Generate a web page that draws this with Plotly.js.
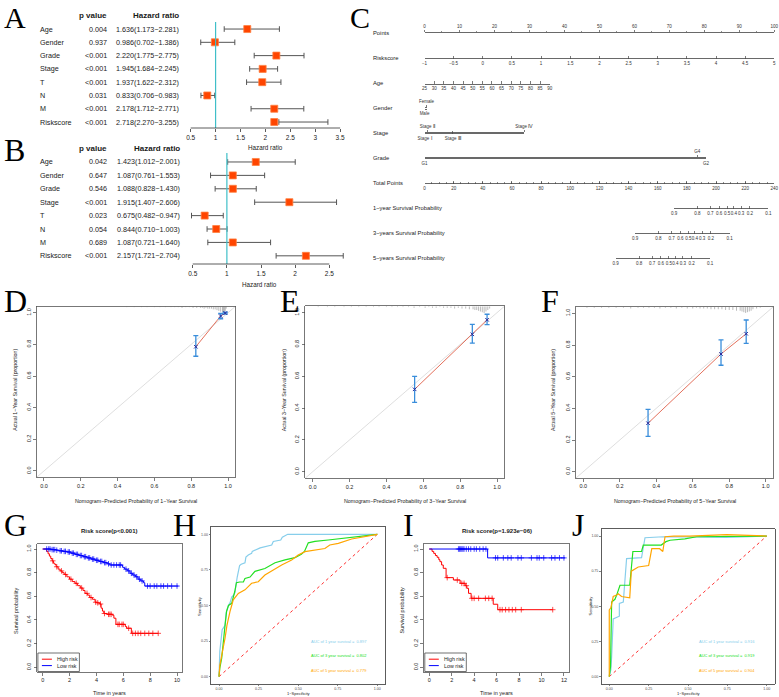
<!DOCTYPE html>
<html><head><meta charset="utf-8">
<script src="https://cdn.plot.ly/plotly-3.0.1.min.js"></script>
<style>html,body{margin:0;padding:0;background:#fff}#chart{width:779px;height:697px}</style>
</head><body><div id="chart"></div>
<script>
// ================= DATA =================
// A: univariate Cox
const uniVars = ['Age','Gender','Grade','Stage','T','N','M','Riskscore'];
const uniP = ['0.004','0.937','<0.001','<0.001','<0.001','0.031','<0.001','<0.001'];
const uniHR = [1.636,0.986,2.220,1.945,1.937,0.833,2.178,2.718];
const uniLo = [1.173,0.702,1.775,1.684,1.622,0.706,1.712,2.270];
const uniHi = [2.281,1.386,2.775,2.245,2.312,0.983,2.771,3.255];
const uniBox = [1.636,0.986,2.220,1.945,1.937,0.833,2.178,2.178]; // square positions as drawn
const uniTicks = [0.5,1,1.5,2,2.5,3,3.5];
// B: multivariate Cox
const mulVars = ['Age','Gender','Grade','Stage','T','N','M','Riskscore'];
const mulP = ['0.042','0.647','0.546','<0.001','0.023','0.054','0.689','<0.001'];
const mulHR = [1.423,1.087,1.088,1.915,0.675,0.844,1.087,2.157];
const mulLo = [1.012,0.761,0.828,1.407,0.482,0.710,0.721,1.721];
const mulHi = [2.001,1.553,1.430,2.606,0.947,1.003,1.640,2.704];
const mulTicks = [0.5,1,1.5,2,2.5];
// C: nomogram
const nomoLabels = ['Points','Riskscore','Age','Gender','Stage','Grade','Total Points',
  '1−year Survival Probability','3−years Survival Probability','5−years Survival Probability'];
const pointsTicks = [0,10,20,30,40,50,60,70,80,90,100];
const riskTicks = [-1,-0.5,0,0.5,1,1.5,2,2.5,3,3.5,4,4.5,5];
const ageTicks = [25,30,35,40,45,50,55,60,65,70,75,80,85,90];
const ageMaxPts = 35.8;
const genderLevels = ['Male','Female']; const genderPts = [0,0.6]; const genderSide = ['b','t'];
const stageLevels = ['Stage Ⅰ','Stage Ⅱ','Stage Ⅲ','Stage Ⅳ']; const stagePts = [0,0.8,8.1,28.5]; const stageSide = ['b','t','b','t'];
const gradeLevels = ['G1','G4','G2']; const gradePts = [0,78.0,80.5]; const gradeSide = ['b','t','b'];
const totalTicks = [0,20,40,60,80,100,120,140,160,180,200,220,240];
const survLabels = ['0.9','0.8','0.7','0.6','0.5','0.4','0.3','0.2','0.1'];
const surv1Pts = [171.2,187.2,196.2,202.2,207.7,212.2,217.2,223.2,236.0];
const surv3Pts = [144.5,160.5,169.5,175.5,181.0,185.5,190.5,196.5,209.3];
const surv5Pts = [131.2,147.2,156.2,162.2,167.7,172.2,177.2,183.2,196.0];
// D-F: calibration
const cal1Pred = [0.825,0.960,0.985], cal1Obs = [0.785,0.979,0.998], cal1Lo = [0.725,0.962,0.992], cal1Hi = [0.855,0.995,1.003];
const cal3Pred = [0.553,0.866,0.946], cal3Obs = [0.518,0.864,0.955], cal3Lo = [0.436,0.808,0.925], cal3Hi = [0.600,0.927,0.990];
const cal5Pred = [0.355,0.755,0.893], cal5Obs = [0.306,0.743,0.871], cal5Lo = [0.223,0.672,0.810], cal5Hi = [0.394,0.833,0.958];
const rug1X = [0.45,0.49,0.53,0.56,0.60,0.63,0.66,0.69,0.71,0.73,0.75,0.77,0.79,0.81,0.83,0.85,0.86,0.87,0.88,0.89,0.90,0.91,0.92,0.93,0.94,0.95,0.96,0.97,0.975,0.98,0.985,0.99];
const rug1N = [1,1,1,1,1,1,1,1,1,1,2,1,1,2,2,2,2,3,2,3,3,3,4,4,5,6,7,8,9,8,6,3];
const rug3X = [0.03,0.08,0.12,0.17,0.21,0.25,0.29,0.33,0.36,0.40,0.43,0.46,0.49,0.52,0.55,0.58,0.61,0.63,0.65,0.67,0.69,0.71,0.73,0.75,0.77,0.79,0.81,0.83,0.85,0.87,0.88,0.89,0.90,0.91,0.92,0.93,0.94,0.95,0.96];
const rug3N = [1,1,1,1,1,1,1,1,1,1,1,1,1,1,2,1,2,1,2,2,1,2,2,2,3,2,3,3,4,4,5,5,6,7,8,9,7,5,3];
const rug5X = [0.02,0.06,0.10,0.14,0.18,0.22,0.26,0.30,0.33,0.36,0.39,0.42,0.45,0.48,0.51,0.54,0.57,0.60,0.62,0.64,0.66,0.68,0.70,0.72,0.74,0.76,0.78,0.80,0.82,0.84,0.86,0.87,0.88,0.89,0.90,0.91,0.92,0.93,0.95,0.97];
const rug5N = [1,1,1,1,1,1,2,1,1,1,1,2,1,1,2,1,2,2,1,2,2,2,3,3,3,3,4,4,4,5,5,6,7,8,7,6,5,3,2,1];
// G: KM training
const gHighT = [0,0.30,0.40,0.50,0.60,0.70,0.80,0.90,1.00,1.15,1.30,1.45,1.60,1.80,2.00,2.20,2.40,2.60,2.80,3.00,3.15,3.35,3.50,3.70,3.90,4.05,4.25,4.35,4.45,4.55,4.80,5.20,5.30,5.45,6.15,6.25,6.60,8.60];
const gHighS = [1.00,0.98,0.96,0.94,0.92,0.90,0.88,0.87,0.85,0.83,0.815,0.80,0.785,0.765,0.745,0.725,0.71,0.69,0.67,0.65,0.625,0.61,0.59,0.575,0.55,0.545,0.535,0.50,0.475,0.455,0.448,0.44,0.415,0.363,0.345,0.33,0.287,0.287];
const gHighCens = [0.75,1.05,1.4,1.7,2.1,2.5,2.9,3.3,3.6,3.95,4.1,4.3,4.6,4.9,5.0,5.1,5.6,5.7,5.9,6.0,6.4,6.7,6.9,7.1,7.3,7.6,7.9,8.2,8.6];
const gLowT = [0,0.6,1.0,1.2,1.5,1.8,2.1,2.4,2.7,3.0,3.3,3.6,3.9,4.2,4.5,4.8,5.0,5.95,6.1,6.3,6.5,6.7,6.9,7.1,7.3,7.5,7.6,10.1];
const gLowS = [1.0,0.995,0.99,0.985,0.98,0.975,0.965,0.955,0.945,0.935,0.925,0.915,0.905,0.895,0.885,0.875,0.865,0.845,0.83,0.815,0.795,0.78,0.765,0.745,0.73,0.715,0.687,0.687];
const gLowCens = [0.3,0.45,0.55,0.7,0.8,0.9,1.05,1.3,1.4,1.6,1.7,1.9,2.0,2.2,2.3,2.5,2.6,2.8,2.9,3.1,3.2,3.4,3.5,3.7,3.8,4.0,4.1,4.3,4.4,4.6,4.7,4.9,5.1,5.3,5.5,5.7,5.8,6.2,6.4,6.6,6.8,7.0,7.2,7.4,7.8,8.0,8.3,8.5,8.8,9.0,9.3,9.6,10.0];
// I: KM validation
const iHighT = [0,0.25,0.40,0.55,0.70,0.85,0.95,1.10,1.25,1.50,2.15,2.75,3.20,3.35,3.50,3.73,5.70,6.10,11.0];
const iHighS = [1.0,0.98,0.963,0.945,0.93,0.91,0.893,0.865,0.837,0.758,0.738,0.71,0.69,0.668,0.625,0.583,0.533,0.487,0.487];
const iHighCens = [1.6,2.5,2.9,3.1,3.3,3.8,4.0,4.4,5.0,5.3,5.6,6.3,6.5,6.8,7.1,7.4,7.7,8.2,11.0];
const iLowT = [0,5.2,12.1];
const iLowS = [1.0,0.925,0.925];
const iLowCens = [2.6,2.7,2.8,2.9,3.0,3.1,3.3,3.5,3.7,4.0,4.2,4.5,4.8,5.05,5.9,6.1,6.6,7.0,7.3,7.9,8.2,9.1,9.6,9.8,10.2,10.9,11.2,11.6,12.0];
// H: ROC training
const hFpr1 = [0,0.005,0.017,0.02,0.038,0.045,0.059,0.07,0.08,0.09,0.10,0.11,0.115,0.13,0.14,0.164,0.17,0.185,0.206,0.21,0.248,0.26,0.333,0.343,0.39,0.40,0.434,1.0];
const hTpr1 = [0,0.18,0.30,0.33,0.36,0.45,0.50,0.52,0.56,0.57,0.59,0.69,0.70,0.78,0.79,0.80,0.84,0.855,0.866,0.88,0.90,0.905,0.925,0.95,0.96,0.98,1.0,1.0];
const hFpr3 = [0,0.005,0.017,0.03,0.038,0.048,0.06,0.08,0.09,0.10,0.11,0.13,0.154,0.164,0.196,0.227,0.29,0.354,0.417,0.48,0.52,0.54,0.564,0.606,0.69,0.775,0.838,1.0];
const hTpr3 = [0,0.06,0.13,0.25,0.36,0.46,0.50,0.515,0.55,0.60,0.66,0.665,0.665,0.69,0.70,0.74,0.76,0.80,0.82,0.836,0.86,0.88,0.94,0.95,0.96,0.97,0.98,1.0];
const hFpr5 = [0,0.005,0.017,0.03,0.038,0.05,0.059,0.07,0.08,0.09,0.122,0.164,0.206,0.248,0.29,0.354,0.396,0.459,0.50,0.543,0.606,0.669,0.70,0.754,0.838,1.0];
const hTpr5 = [0,0.08,0.15,0.22,0.27,0.36,0.41,0.46,0.50,0.54,0.585,0.61,0.656,0.667,0.714,0.76,0.785,0.82,0.855,0.878,0.89,0.90,0.925,0.936,0.967,1.0];
const hAuc = ['0.897','0.802','0.779'];
// J: ROC validation
const jFpr1 = [0,0.01,0.015,0.025,0.064,0.064,0.089,0.10,0.11,0.205,0.227,0.343,0.45,0.745,1.0];
const jTpr1 = [0,0.05,0.14,0.41,0.43,0.52,0.53,0.70,0.84,0.846,0.988,0.995,0.995,0.99,1.0];
const jFpr3 = [0,0.008,0.015,0.036,0.047,0.068,0.13,0.15,0.205,0.216,0.33,0.36,0.386,0.48,0.555,1.0];
const jTpr3 = [0,0.07,0.53,0.55,0.58,0.65,0.65,0.89,0.89,0.936,0.936,0.96,0.97,0.98,0.995,1.0];
const jFpr5 = [0,0,0.01,0.025,0.047,0.057,0.078,0.13,0.14,0.184,0.25,0.27,0.32,0.34,0.354,0.41,0.51,0.745,1.0];
const jTpr5 = [0,0.474,0.49,0.57,0.58,0.59,0.57,0.56,0.75,0.78,0.79,0.91,0.91,0.89,0.995,1.0,1.0,1.01,1.0];
const jAuc = ['0.916','0.919','0.904'];

// ================= HELPERS =================
const W = 779, H = 697;
const Y = v => 1 - v / H;
const dx = (a, b) => [a / W, b / W];
const dy = (top, bot) => [1 - bot / H, 1 - top / H];
const SANS = '"Liberation Sans", Arial, Helvetica, sans-serif';
const SERIF = '"Liberation Serif", "Times New Roman", serif';
const TXT = '#1a1a1a';
const esc = s => String(s).replace(/</g, '&lt;');

const traces = [];
const layout = {
  width: W, height: H, margin: {l: 0, r: 0, t: 0, b: 0},
  paper_bgcolor: '#fff', plot_bgcolor: 'rgba(0,0,0,0)', showlegend: false,
  font: {family: SANS, color: TXT}, annotations: [], shapes: []
};
function ann(text, xpx, ypx, o = {}) {
  const f = Object.assign({family: SANS, size: 6, color: TXT}, o.font || {});
  const a = Object.assign({text, x: xpx / W, y: Y(ypx), xref: 'paper', yref: 'paper', showarrow: false,
    xanchor: 'center', yanchor: 'middle', borderpad: 0}, o);
  a.font = f;
  layout.annotations.push(a);
}
const sfx = n => (n === 1 ? '' : String(n));

// ================= A & B: forest plots =================
function forest(n, vars, pv, hr, lo, hi, boxX, ticks, g) {
  const s = sfx(n);
  layout['xaxis' + s] = {domain: dx(g.x0, g.x1), range: g.xr, anchor: 'y' + s, tickmode: 'array',
    tickvals: ticks, ticktext: ticks.map(String), ticks: 'outside', ticklen: 3, tickwidth: 0.8, tickcolor: '#333',
    showline: false, showgrid: false, zeroline: false, tickangle: 0, tickfont: {size: 6.5, color: TXT}, fixedrange: true};
  layout['yaxis' + s] = {domain: dy(g.y0, g.y1), range: g.yr, anchor: 'x' + s, visible: false, fixedrange: true};
  layout.shapes.push({type: 'line', xref: 'x' + s, yref: 'y' + s + ' domain', x0: 1, x1: 1, y0: 0, y1: 1,
    line: {color: '#3FBFC8', width: 1.2}});
  layout.shapes.push({type: 'line', xref: 'x' + s, yref: 'y' + s + ' domain', x0: ticks[0], x1: ticks[ticks.length - 1],
    y0: 0, y1: 0, line: {color: '#333', width: 0.8}});
  const cx = [], cy = [];
  vars.forEach((v, i) => { cx.push(lo[i], hi[i], null); cy.push(i, i, null); });
  traces.push({type: 'scatter', mode: 'lines+markers', x: cx, y: cy, xaxis: 'x' + s, yaxis: 'y' + s,
    line: {color: '#555', width: 1}, marker: {symbol: 'line-ns-open', size: 4, color: '#555', line: {color: '#555', width: 1}},
    hoverinfo: 'skip'});
  traces.push({type: 'scatter', mode: 'markers', x: boxX, y: vars.map((v, i) => i), xaxis: 'x' + s, yaxis: 'y' + s,
    marker: {symbol: 'square', size: 7, color: '#FF4500', line: {color: '#FF8040', width: 0.8}}, hoverinfo: 'skip'});
  // table
  ann('<b>p value</b>', 108, g.hy, {xanchor: 'right', font: {size: 8}});
  ann('<b>Hazard ratio</b>', g.hrx, g.hy, {xanchor: 'right', font: {size: 8}});
  vars.forEach((v, i) => {
    const base = {yref: 'y' + s, y: i};
    ann(v, 39, 0, Object.assign({xanchor: 'left', font: {size: 7.2}}, base));
    ann(esc(pv[i]), 108, 0, Object.assign({xanchor: 'right', font: {size: 7.2}}, base));
    ann(hr[i].toFixed(3) + '(' + lo[i].toFixed(3) + '−' + hi[i].toFixed(3) + ')', g.hrx, 0,
      Object.assign({xanchor: 'right', font: {size: 7.2}}, base));
  });
  ann('Hazard ratio', g.tx, g.ty, {font: {size: 6.3}});
}
forest(1, uniVars, uniP, uniHR, uniLo, uniHi, uniBox, uniTicks,
  {x0: 185.7, x1: 345.1, xr: [0.4, 3.6], y0: 22, y1: 128, yr: [7.45, -0.53], hy: 16, hrx: 180, tx: 265, ty: 147.5});
forest(2, mulVars, mulP, mulHR, mulLo, mulHi, mulHR, mulTicks,
  {x0: 185.9, x1: 349.8, xr: [0.4, 2.8], y0: 153, y1: 264, yr: [7.61, -0.67], hy: 149, hrx: 181, tx: 259, ty: 284});

// ================= C: nomogram =================
const PX0 = 424.5, PX1 = 774.3;
const PPP = (PX1 - PX0) / 100;   // px per point
const TPP = (PX1 - PX0) / 240;   // px per total point
const rowY = [33.3, 58.3, 83.5, 108.5, 133.3, 158.3, 183.3, 208.3, 233.3, 258.3];
let nAx = 3;
function nomoAxis(ypx, x0px, x1px, range, side, ax) {
  const s = String(nAx++);
  layout['xaxis' + s] = Object.assign({domain: dx(x0px, x1px), range: range, anchor: 'y' + s, side: side,
    showline: true, linecolor: '#444', linewidth: 0.8, showgrid: false, zeroline: false,
    ticks: side === 'top' ? 'outside' : 'inside', ticklen: 2.5, tickwidth: 0.7, tickcolor: '#444',
    tickangle: 0, tickfont: {size: 4.5, color: '#333'}, fixedrange: true}, ax);
  layout['yaxis' + s] = {domain: [Y(ypx) - 0.0004, Y(ypx) + 0.0004], range: [0, 1], anchor: 'x' + s,
    visible: false, fixedrange: true};
  traces.push({type: 'scatter', x: [], y: [], xaxis: 'x' + s, yaxis: 'y' + s, hoverinfo: 'skip'});
}
const arr = (vals, txt) => ({tickmode: 'array', tickvals: vals, ticktext: txt});
// Points
nomoAxis(rowY[0], PX0, PX1, [0, 100], 'top', Object.assign(arr(pointsTicks, pointsTicks.map(String)),
  {minor: {tickvals: [5,15,25,35,45,55,65,75,85,95], ticks: 'outside', ticklen: 1.5, tickcolor: '#444', tickwidth: 0.6}}));
// Riskscore
nomoAxis(rowY[1], PX0, PX1, [-1, 5], 'bottom', arr(riskTicks, riskTicks.map(v => (v < 0 ? '−' + Math.abs(v) : String(v)))));
// Age
nomoAxis(rowY[2], PX0, PX0 + ageMaxPts * PPP, [25, 90], 'bottom', arr(ageTicks, ageTicks.map(String)));
// categorical rows
function catRow(ypx, levels, pts, sides) {
  const mx = Math.max(...pts);
  const x1 = PX0 + Math.max(mx, 0.3) * PPP;
  const r = [0, Math.max(mx, 0.3)];
  const top = [], topT = [], bot = [], botT = [];
  levels.forEach((l, i) => { if (sides[i] === 't') { top.push(pts[i]); topT.push(l); } else { bot.push(pts[i]); botT.push(l); } });
  nomoAxis(ypx, PX0, x1, r, 'top', arr(top, topT));
  nomoAxis(ypx, PX0, x1, r, 'bottom', arr(bot, botT));
}
catRow(rowY[3], genderLevels, genderPts, genderSide);
catRow(rowY[4], stageLevels, stagePts, stageSide);
catRow(rowY[5], gradeLevels, gradePts, gradeSide);
// Total points
nomoAxis(rowY[6], PX0, PX1, [0, 240], 'bottom', Object.assign(arr(totalTicks, totalTicks.map(String)),
  {minor: {dtick: 5, tick0: 0, ticks: 'inside', ticklen: 1.5, tickcolor: '#444', tickwidth: 0.6}}));
// Survival probabilities
[surv1Pts, surv3Pts, surv5Pts].forEach((p, k) => {
  nomoAxis(rowY[7 + k], PX0 + p[0] * TPP, PX0 + p[p.length - 1] * TPP, [p[0], p[p.length - 1]], 'bottom', arr(p, survLabels));
});
nomoLabels.forEach((t, i) => ann(t, 372, rowY[i], {xanchor: 'left', font: {size: 5.8}}));

// ================= R-style axes helper =================
function rAxes(s, xd, yd, xr, yr, xt, xtt, yt, ytt, fs) {
  layout['xaxis' + s] = {domain: dx(xd[0], xd[1]), range: xr, anchor: 'y' + s, tickmode: 'array', tickvals: xt, ticktext: xtt,
    ticks: 'outside', ticklen: 3, tickwidth: 0.7, tickcolor: '#444', showline: true, mirror: true, linecolor: '#555',
    linewidth: 0.8, showgrid: false, zeroline: false, tickangle: 0, tickfont: {size: fs, color: TXT}, fixedrange: true};
  layout['yaxis' + s] = {domain: dy(yd[0], yd[1]), range: yr, anchor: 'x' + s, tickmode: 'array', tickvals: yt, ticktext: ytt,
    ticks: 'outside', ticklen: 3, tickwidth: 0.7, tickcolor: '#444', showline: true, mirror: true, linecolor: '#555',
    linewidth: 0.8, showgrid: false, zeroline: false, tickangle: -90, tickfont: {size: fs, color: TXT}, fixedrange: true};
}
const t01 = [0, 0.2, 0.4, 0.6, 0.8, 1.0];
const t01t = ['0.0', '0.2', '0.4', '0.6', '0.8', '1.0'];

// ================= D-F: calibration =================
function calib(n, g, pred, obs, lo, hi, rx, rn, yrs) {
  const s = String(n);
  rAxes(s, [g.x0, g.x1], [g.y0, g.y1], [-0.04, 1.04], [-0.04, 1.04], t01, t01t, t01, t01t, 5.5);
  const xa = 'x' + s, ya = 'y' + s;
  traces.push({type: 'scatter', mode: 'lines', x: [-0.04, 1.04], y: [-0.04, 1.04], xaxis: xa, yaxis: ya,
    line: {color: '#d6d6d6', width: 0.8}, hoverinfo: 'skip'});
  const sx = [], sy = [];
  rx.forEach((v, i) => { sx.push(v, v, null); sy.push(1.04, 1.04 - rn[i] * 0.0047, null); });
  traces.push({type: 'scatter', mode: 'lines', x: sx, y: sy, xaxis: xa, yaxis: ya, line: {color: '#8c8c8c', width: 0.6}, hoverinfo: 'skip'});
  traces.push({type: 'scatter', mode: 'lines', x: pred, y: obs, xaxis: xa, yaxis: ya, line: {color: '#E0604A', width: 0.9}, hoverinfo: 'skip'});
  traces.push({type: 'scatter', mode: 'markers', x: pred, y: obs, xaxis: xa, yaxis: ya,
    error_y: {type: 'data', symmetric: false, array: hi.map((h, i) => h - obs[i]), arrayminus: lo.map((l, i) => obs[i] - l),
      color: '#3A8EDB', thickness: 1.3, width: 2.5},
    marker: {symbol: 'x-thin-open', size: 3.5, color: '#2A2A9A', line: {color: '#2A2A9A', width: 1}}, hoverinfo: 'skip'});
  ann('Nomogram−Predicted Probability of ' + yrs + '−Year Survival', (g.x0 + g.x1) / 2, 501, {font: {size: 5.3}});
  ann('Actual ' + yrs + '−Year Survival (proportion)', g.yt, (g.y0 + g.y1) / 2 - 2, {textangle: -90, font: {size: 5.3}});
}
calib(16, {x0: 36.6, x1: 235.4, y0: 306.4, y1: 477.3, yt: 15}, cal1Pred, cal1Obs, cal1Lo, cal1Hi, rug1X, rug1N, 1);
calib(17, {x0: 305.3, x1: 504.4, y0: 306.3, y1: 478.1, yt: 284}, cal3Pred, cal3Obs, cal3Lo, cal3Hi, rug3X, rug3N, 3);
calib(18, {x0: 576.0, x1: 773.0, y0: 307.0, y1: 478.0, yt: 552.5}, cal5Pred, cal5Obs, cal5Lo, cal5Hi, rug5X, rug5N, 5);

// ================= G & I: Kaplan-Meier =================
function stepAt(T, S, t) { let v = S[0]; for (let i = 0; i < T.length; i++) { if (T[i] <= t) v = S[i]; } return v; }
function km(n, g, curves, xt, title) {
  const s = String(n);
  rAxes(s, [g.x0, g.x1], [544.3, 672.0], g.xr, [-0.04, 1.04], xt, xt.map(String), t01, t01t, 5.5);
  curves.forEach(c => {
    traces.push({type: 'scatter', mode: 'lines', x: c.T, y: c.S, xaxis: 'x' + s, yaxis: 'y' + s,
      line: {color: c.col, width: 1, shape: 'hv'}, hoverinfo: 'skip'});
    traces.push({type: 'scatter', mode: 'markers', x: c.C, y: c.C.map(t => stepAt(c.T, c.S, t)), xaxis: 'x' + s, yaxis: 'y' + s,
      marker: {symbol: 'cross-thin-open', size: 4, color: c.col, line: {color: c.col, width: 0.7}}, hoverinfo: 'skip'});
  });
  const cx = (g.x0 + g.x1) / 2;
  ann('<b>' + esc(title) + '</b>', cx, 531.3, {font: {size: 6}});
  ann('Time in years', cx, 693, {font: {size: 5.5}});
  ann('Survival probability', g.yt, 611, {textangle: -90, font: {size: 5.5}});
  // legend box
  const lx = g.x0 + 0.6;
  layout.shapes.push({type: 'rect', xref: 'paper', yref: 'paper', x0: lx / W, x1: (lx + 41.5) / W, y0: Y(671.5), y1: Y(653),
    line: {color: '#333', width: 0.7}, fillcolor: 'rgba(255,255,255,0)'});
  [['High risk', '#FF0000', 659.2], ['Low risk', '#0000FF', 665.6]].forEach(([t, c, yy]) => {
    layout.shapes.push({type: 'line', xref: 'paper', yref: 'paper', x0: (lx + 4) / W, x1: (lx + 14) / W, y0: Y(yy), y1: Y(yy),
      line: {color: c, width: 1}});
    ann(t, lx + 18, yy, {xanchor: 'left', font: {size: 5.3}});
  });
}
km(19, {x0: 37.3, x1: 182.4, xr: [-0.4, 10.4], yt: 16},
  [{T: gHighT, S: gHighS, C: gHighCens, col: '#FF0000'}, {T: gLowT, S: gLowS, C: gLowCens, col: '#0000FF'}],
  [0, 2, 4, 6, 8, 10], 'Risk score(p<0.001)');
km(21, {x0: 424.2, x1: 569.0, xr: [-0.45, 12.45], yt: 401.5},
  [{T: iHighT, S: iHighS, C: iHighCens, col: '#FF0000'}, {T: iLowT, S: iLowS, C: iLowCens, col: '#0000FF'}],
  [0, 2, 4, 6, 8, 10, 12], 'Risk score(p=1.923e−06)');

// ================= H & J: ROC =================
const rocCols = ['#87CEEB', '#22E022', '#FFA500'];
function roc(n, g, curves, aucs) {
  const s = String(n);
  const tv = [0, 0.25, 0.5, 0.75, 1], tt = ['0.00', '0.25', '0.50', '0.75', '1.00'];
  const base = {range: [-0.05, 1.05], tickmode: 'array', tickvals: tv, ticktext: tt, ticks: 'outside', ticklen: 1.5,
    tickwidth: 0.6, tickcolor: '#333', showline: true, mirror: true, linecolor: '#333', linewidth: 0.8, showgrid: false,
    zeroline: false, tickangle: 0, tickfont: {size: 3.6, color: '#4d4d4d'}, fixedrange: true};
  layout['xaxis' + s] = Object.assign({domain: dx(g.x0, g.x1), anchor: 'y' + s}, base);
  layout['yaxis' + s] = Object.assign({domain: dy(g.y0, g.y1), anchor: 'x' + s}, base);
  traces.push({type: 'scatter', mode: 'lines', x: [0, 1], y: [0, 1], xaxis: 'x' + s, yaxis: 'y' + s,
    line: {color: '#FF3030', width: 1, dash: 'dot'}, hoverinfo: 'skip'});
  curves.forEach((c, k) => traces.push({type: 'scatter', mode: 'lines', x: c[0], y: c[1], xaxis: 'x' + s, yaxis: 'y' + s,
    line: {color: rocCols[k], width: 1.2}, hoverinfo: 'skip'}));
  [1, 3, 5].forEach((yr, k) => ann('AUC of ' + yr + ' year survival =  ' + aucs[k], g.ax, [641, 655.3, 670][k],
    {font: {size: 4, color: rocCols[k]}}));
  ann('1−Specificity', (g.x0 + g.x1) / 2, 693.8, {font: {size: 4}});
  ann('Sensitivity', g.yt, 606, {textangle: -90, font: {size: 4.2}});
}
roc(20, {x0: 211.1, x1: 385.2, y0: 527.2, y1: 683.8, ax: 338.5, yt: 199},
  [[hFpr1, hTpr1], [hFpr3, hTpr3], [hFpr5, hTpr5]], hAuc);
roc(22, {x0: 601.4, x1: 774.6, y0: 529.0, y1: 683.7, ax: 727, yt: 589.5},
  [[jFpr1, jTpr1], [jFpr3, jTpr3], [jFpr5, jTpr5]], jAuc);

// ================= Panel letters =================
[['A', 3, 17.5, 30], ['B', 3, 150, 32], ['C', 349, 17.5, 30], ['D', 3, 301, 32], ['E', 279, 301, 32], ['F', 540, 301, 32],
 ['G', 3, 525, 32], ['H', 172, 525, 32], ['I', 402, 525, 32], ['J', 571, 525, 32]].forEach(([t, x, y, fs]) =>
  ann(t, x, y, {xanchor: 'left', font: {family: SERIF, size: fs, color: '#000'}}));

Plotly.newPlot('chart', traces, layout, {staticPlot: true, displayModeBar: false});
</script>
</body></html>
